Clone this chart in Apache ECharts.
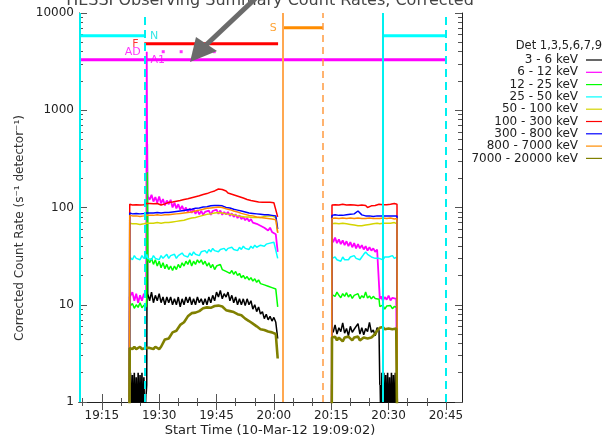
<!DOCTYPE html>
<html><head><meta charset="utf-8">
<script src="https://cdn.jsdelivr.net/npm/echarts@6/dist/echarts.min.js"></script>
<style>html,body{margin:0;padding:0;background:#fff}#c{width:604px;height:437px}</style>
</head><body><div id="c"></div>
<script>
// ---------- data (x = minutes after 19:00, y = counts/s/detector) ----------
const bands = ['3 - 6 keV','6 - 12 keV','12 - 25 keV','25 - 50 keV','50 - 100 keV','100 - 300 keV','300 - 800 keV','800 - 7000 keV','7000 - 20000 keV'];
const bandColors = ['#000000','#ff00ff','#00ff00','#00ffff','#d4d400','#ff0000','#0000ff','#ff8c00','#808000'];

const times1 = [22.2,22.3,23,23.5,24,24.5,25,25.5,26,26.6,26.75,26.9,27.0,
  27.5,28,28.5,29,29.5,30,30.5,31,31.5,32, 32.5,33,33.5,34,34.5,35,35.5,36,36.5,37,
  37.5,38,38.5,39,39.5,40,40.5,41,41.5,42, 42.5,43,43.5,44,44.5,45,45.5,46,46.5,47,
  47.5,48,48.5,49,49.5,50,50.5,51,51.5,52, 52.5,53,53.5,54,54.5,55,55.5,56,56.5,57,
  57.5,58,58.5,59,59.5,60,60.5, 61.0];
const times2 = [75.1,75.2, 75.5,76,76.5,77,77.5,78,78.5,79,79.5,80, 80.5,81,81.5,82,82.5,83,83.5,84,84.5,85,
  85.5,86,86.5,87,87.5, 87.7, 88,88.5,89,89.5,90,90.5,91,91.5,92, 92.2,92.3];

const r3to6_a = [null,null,null,null,null,null,null,null,null,1.2,1.5,450,13,
  11,13.5,10.5,12.5,11,13,10.5,12,10,12, 10.5,12,10,11.5,10,12,9.5,11.5,10,12,
  10.5,12,10,11.5,10,12,10.5,11.5,10,11.5, 10,12,10.5,12.5,11,13.5,12,14,11.5,13,
  12,13.5,11,12.5,10.5,12,10,11.5,10,11.5, 9.8,11.5,10,11,9,10,8.5,9.5,8,8.5,
  7.2,8,7,7.6,6.8,7.4,6.6, 4.5];
const r3to6_b = [0.3,5.6, 5.2,6.2,5,5.8,5.3,6.5,5.1,5.7,4.8,6, 5.2,5.6,5.5,6.4,5,5.8,4.9,5.7,5.3,6.6,
  5.2,5.5,4.8,5.8,5.4, 1.5, null,null,null,null,null,null,null,null,null, null,null];
const r3to6_floorTimes = [22.5,22.75,23,23.25,23.5,23.75,24,24.25,24.5,24.75,25,25.25,25.5,25.75,26,26.25,26.5,null,87.8,88,88.25,88.5,88.75,89,89.25,89.5,89.75,90,90.25,90.5,90.75,91,91.25,91.5,91.75,92,92.2];
const r3to6_floor = [2.0,0.5,1.9,0.5,2.0,0.5,1.8,0.5,2.0,0.5,1.9,0.5,2.0,0.5,1.8,0.5,1.2,null,1.5,0.5,2.0,0.5,2.0,0.5,1.9,0.5,2.0,0.5,1.8,0.5,2.0,0.5,1.9,0.5,2.0,0.5,1.8];

const r6to12_a = [0.3,12,13.5,11,13,10.5,12.5,11,13,12,4000,140,130,
  120,135,115,128,112,130,110,122,105,118, 108,120,100,112,98,108,95,104,92,100,
  90,98,88,96,86,94,85,92,84,90, 86,93,84,92,88,95,86,93,84,90,
  85,90,82,87,80,85,78,83,76,80, 74,78,72,76,70,73,68,70,65,68,
  62,65,58,62,56,58,53, 35];
const r6to12_b = [0.3,48, 44,49,43,47,42,46,41,45,40,44, 39,43,38,42,38,41,37,40,36,39,
  36,38,35,37,36, 11.5, 12.2,11,12,11.3,12.4,11.1,11.8,12,11.5, 11.8,0.3];

const r12to25_a = [0.3,9.6,10.3,9.2,10,9.4,10.5,9.3,9.9,9.5,12,230,30,
  27,30,26,29,25,28,24,27,23.5,26, 23,25,22.5,25,23,26,24,27,25,28,
  26,29,25,28,26,29,27,29,26,28, 25,27,24,26,23,25,24,26,23,24,
  22,23,21,22.5,20.5,22,20,21,19,20, 18.5,19.5,18,19,17.5,18.5,17,18,16.5,17,
  16,16.5,15.5,16,15,15.5,14.5, 9.5];
const r12to25_b = [0.3,12.7, 13.2,12.2,13.5,12.5,11.8,13,12.2,13.3,12,12.8, 11.6,12.5,12,13,11.5,12.4,11.8,13.5,11.7,12.3,
  11.5,12.2,11.6,12,11.4, 9.6, 9.2,9.9,9,9.7,9.3,9.8,9.1,9.6,9.4, 9.4,0.3];

const r25to50_a = [0.3,31,29,32,30,31,29,32,30,31,33,32,30,
  31,29,32,30,31,29,32,30,31,33, 30,32,31,33,30,32,31,34,32,33,
  31,34,32,35,33,34,32,35,34,36, 34,37,35,38,36,37,35,37,36,38,
  36,38,37,39,37,38,36,39,37,40, 38,39,37,40,38,41,39,40,41,42,
  40,42,41,43,42,44,43, 30];
const r25to50_b = [0.3,30, 29,31,29,30,28,31,29,30,29,31, 30,32,30,31,29,31,33,35,33,34,
  31,32,30,31,30, 30, 31,29,31,30,31,30,32,30,31, 31,0.3];

const r50to100_a = [0.3,69,68,70,68,69,67,70,68,69,71,70,68,
  69,67,69,68,70,68,69,67,70,69, 70,69,71,70,72,71,73,72,74,75,
  76,75,78,77,79,80,81,82,83,84, 85,84,86,85,88,87,89,87,88,86,
  86,84,85,83,84,82,82,81,81,80, 80,79,80,78,79,78,79,80,79,80,
  81,80,82,81,82,80,79, 55];
const r50to100_b = [0.3,68, 67,69,67,68,66,69,67,68,66,67, 65,66,64,65,63,65,64,66,65,67,
  66,68,67,69,68, 68, 67,69,68,69,67,69,68,70,69, 68,0.3];

const r100to300_a = [0.3,108,106,109,107,110,106,109,107,110,112,111,108,
  110,106,109,107,110,108,106,111,109,110, 113,111,114,112,116,115,118,116,121,119,
  123,121,126,124,129,127,132,130,136,133, 139,137,144,141,148,146,155,150,153,146,
  148,141,143,137,138,133,134,129,130,125, 126,121,123,118,119,116,117,114,116,113,
  115,113,116,113,115,112,114, 80];
const r100to300_b = [0.3,106, 105,107,104,106,105,108,104,106,105,107, 104,106,103,105,104,106,103,105,100,99,
  104,106,105,107,108, 107, 108,107,109,107,110,108,109,110,108, 108,0.3];

const r300to800_a = [0.3,88,86,89,87,88,86,89,87,88,90,89,87,
  88,86,88,87,89,87,88,86,89,88, 89,88,90,89,91,90,92,91,93,94,
  95,94,96,97,98,97,99,100,101,100, 102,103,104,103,105,104,105,103,104,101,
  100,98,99,96,96,94,94,92,92,90, 90,88,88,87,87,86,86,85,85,84,
  84,83,84,82,83,82,82, 60];
const r300to800_b = [0.3,83, 82,84,82,83,81,83,82,84,83,85, 84,86,89,92,88,84,83,82,84,82,
  83,81,83,82,83, 82, 83,82,84,82,83,82,83,82,83, 82,0.3];

const r800to7000_a = [0.3,83,82,84,82,83,81,83,82,83,85,84,82,
  83,81,83,82,84,82,83,81,84,83, 84,83,85,84,86,85,87,86,88,88,
  89,88,90,91,92,92,94,95,96,96, 98,98,99,99,100,99,101,99,100,97,
  97,95,95,93,92,90,90,88,87,86, 85,84,83,82,82,81,80,80,79,79,
  78,78,77,77,76,76,75, 55];
const r800to7000_b = [0.3,77, 76,78,76,77,75,78,76,77,76,78, 75,77,76,78,76,77,75,77,76,78,
  76,77,75,77,76, 77, 76,78,76,77,76,78,77,76,77, 77,0.3];

const r7000to20000_a = [0.3,3.6,3.5,3.7,3.5,3.6,3.7,3.5,3.6,3.6,3.7,3.6,3.5,
  3.6,3.7,3.5,3.7,3.6,3.5,3.7,3.6,4.4,4.3, 4.5,4.4,5.2,5.0,5.4,5.3,6.2,6.4,6.6,6.5,
  7.6,7.9,8.2,8.0,8.3,8.2,8.6,8.7,9.2,9.0, 9.4,9.2,9.3,9.5,9.7,9.6,9.8,9.5,9.6,9.3,
  8.8,8.9,8.6,8.5,8.4,8.2,8.0,7.9,7.8,7.5, 7.2,7.0,6.8,6.6,6.4,6.2,6.0,5.8,5.6,5.5,
  5.5,5.4,5.3,5.2,5.2,5.1,5.0, 2.8];
const r7000to20000_b = [0.3,4.6, 4.4,4.7,4.3,4.6,4.5,4.2,4.6,4.4,4.7,4.5, 4.3,4.6,4.4,4.7,4.3,4.5,4.6,4.4,4.5,4.3,
  4.6,4.4,5.0,5.4,5.6, 5.8, 5.7,5.9,5.6,5.8,5.7,5.9,5.6,5.8,5.7, 5.7,0.3];

// observing-summary flags
const flagNight = [[9.033,5845],[26.1,5845],null,[88.52,5845],[105,5845]];
const flagFlare = [[26.1,4833],[61.1,4833]];
const flagSAA = [[62.39,7060],[72.84,7060]];
const flagA1 = [[9.033,3311],[105,3311]];
const flagADdots = [[31.06,4000],[35.75,4000],[40.1,4000],[44.4,4000]];
const flagLabels = [['N',28.7,5845,'#00e0e0'],['F',23.8,4833,'#ff0000'],['AD',23.1,4000,'#ff00ff'],['A1',29.6,3311,'#ff00ff'],['S',59.85,7060,'#ff8c00']];
const cyanSolidLines = [9.15, 88.52];
const cyanDashedLines = [26.1, 105.0];
const orangeSolidLines = [62.39];
const orangeDashedLines = [72.84];

// axes
const xMajorTicks = [15,30,45,60,75,90,105];
const xMinorTicks = [10,20,25,35,40,50,55,65,70,80,85,95,100];
const yMajorTicks = [1,10,100,1000,10000];
const yMinorTicks = [2,3,4,5,6,7,8,9,20,30,40,50,60,70,80,90,200,300,400,500,600,700,800,900,2000,3000,4000,5000,6000,7000,8000,9000];

// ---------- build ----------
function pairs(ts, vs){ return ts.map((t,i)=> (t===null ? ['-','-'] : [t, vs[i]===null ? '-' : vs[i]])); }
function seg(a, b){ return pairs(times1,a).concat([[68,'-']]).concat(pairs(times2,b)); }
const bandData = [
  seg(r3to6_a, r3to6_b), seg(r6to12_a, r6to12_b), seg(r12to25_a, r12to25_b), seg(r25to50_a, r25to50_b),
  seg(r50to100_a, r50to100_b), seg(r100to300_a, r100to300_b), seg(r300to800_a, r300to800_b),
  seg(r800to7000_a, r800to7000_b), seg(r7000to20000_a, r7000to20000_b)
];
const lw = [1.5,1.8,1.5,1.5,1.5,1.5,1.5,1.5,2.6];
const series = [];
bandData.forEach((d,i)=>{
  series.push({type:'line', name:bands[i], data:d, showSymbol:false, connectNulls:false, clip:true,
    lineStyle:{color:bandColors[i], width:lw[i]}, itemStyle:{color:bandColors[i]}, silent:true, z:2});
  if(i===0){
    series.push({type:'line', data:pairs(r3to6_floorTimes, r3to6_floor), showSymbol:false, connectNulls:false, clip:true,
      lineStyle:{color:'#000', width:1.6}, silent:true, z:2});
  }
});
function vline(vals, color, type, width){
  return {type:'line', data:[], silent:true, z:3,
    markLine:{silent:true, symbol:['none','none'], animation:false, label:{show:false},
      lineStyle:{color:color, type:type, width:width}, data: vals.map(v=>({xAxis:v}))}};
}
series.push(vline(cyanSolidLines,'#00f0f0','solid',2));
series.push(vline(cyanDashedLines,'#00f0f0',[8,5],2));
series.push(vline(orangeSolidLines,'#ffa850','solid',2));
series.push(vline(orangeDashedLines,'#ff9a40',[7,5],1.5));
function hline(d, color){
  return {type:'line', data:d.map(p=>p===null?['-','-']:p), showSymbol:false, connectNulls:false, silent:true, z:4,
    lineStyle:{color:color, width:3}};
}
series.push(hline(flagNight,'#00ffff'));
series.push(hline(flagFlare,'#ff0000'));
series.push(hline(flagSAA,'#ff8c00'));
series.push(hline(flagA1,'#ff00ff'));
series.push({type:'scatter', data:flagADdots, symbol:'rect', symbolSize:[3,3], itemStyle:{color:'#ff00ff'}, silent:true, z:4});
series.push({type:'scatter', symbolSize:0, silent:true, z:5,
  data: flagLabels.map(f=>({value:[f[1],f[2]], label:{show:true, position:'inside', formatter:f[0], color:f[3],
    fontFamily:'DejaVu Sans', fontSize:11}}))});

function fmtTime(v){ const tot = 19*60 + Math.round(v); const h = Math.floor(tot/60), m = tot%60; return h+':'+(m<10?'0':'')+m; }
const xBase = {type:'value', min:9.033, max:109.2, splitLine:{show:false}};
const tickCol = '#555', lineCol = '#222';
const xAxes = [
  Object.assign({}, xBase, {position:'bottom', axisLine:{show:true, lineStyle:{color:lineCol}},
    axisTick:{show:true, inside:true, length:8, customValues:xMajorTicks, lineStyle:{color:tickCol}},
    axisLabel:{show:true, customValues:xMajorTicks, formatter:fmtTime, margin:8, color:'#222', fontFamily:'DejaVu Sans', fontSize:12}}),
  Object.assign({}, xBase, {position:'bottom', axisLine:{show:false},
    axisTick:{show:true, inside:true, length:4, customValues:xMinorTicks, lineStyle:{color:tickCol}}, axisLabel:{show:false}}),
  Object.assign({}, xBase, {position:'top', axisLine:{show:true, lineStyle:{color:lineCol}},
    axisTick:{show:true, inside:true, length:8, customValues:xMajorTicks, lineStyle:{color:tickCol}}, axisLabel:{show:false}}),
  Object.assign({}, xBase, {position:'top', axisLine:{show:false},
    axisTick:{show:true, inside:true, length:4, customValues:xMinorTicks, lineStyle:{color:tickCol}}, axisLabel:{show:false}})
];
const logMajor = yMajorTicks.map(v=>Math.log10(v));
const logMinor = yMinorTicks.map(v=>Math.log10(v));
const yl = {type:'value', min:0, max:4, splitLine:{show:false}};
const yAxes = [
  {type:'log', logBase:10, min:1, max:10000, position:'left', axisLine:{show:true, lineStyle:{color:lineCol}},
    axisTick:{show:false}, axisLabel:{show:false}, splitLine:{show:false}},
  Object.assign({}, yl, {position:'left', axisLine:{show:false},
    axisTick:{show:true, inside:true, length:8, customValues:logMajor, lineStyle:{color:tickCol}},
    axisLabel:{show:true, customValues:logMajor, formatter:v=>String(Math.round(Math.pow(10,v))), margin:5, color:'#222', fontFamily:'DejaVu Sans', fontSize:12}}),
  Object.assign({}, yl, {position:'left', axisLine:{show:false},
    axisTick:{show:true, inside:true, length:4, customValues:logMinor, lineStyle:{color:tickCol}}, axisLabel:{show:false}}),
  Object.assign({}, yl, {position:'right', axisLine:{show:true, lineStyle:{color:lineCol}},
    axisTick:{show:true, inside:true, length:7, customValues:logMajor, lineStyle:{color:tickCol}}, axisLabel:{show:false}}),
  Object.assign({}, yl, {position:'right', axisLine:{show:false},
    axisTick:{show:true, inside:true, length:4, customValues:logMinor, lineStyle:{color:tickCol}}, axisLabel:{show:false}})
];

// legend & annotations (graphic)
const graphics = [
  {type:'text', z:10, style:{text:'HESSI Observing Summary Count Rates, Corrected', x:270, y:9, align:'center', verticalAlign:'bottom',
    fontFamily:'DejaVu Sans', fontSize:16, fill:'#444'}},
  {type:'text', z:10, rotation:Math.PI/2, x:20, y:228, style:{text:'Corrected Count Rate (s\u207B\u00B9 detector\u207B\u00B9)', x:0, y:0,
    align:'center', verticalAlign:'middle', fontFamily:'DejaVu Sans', fontSize:12, fill:'#333'}},
  {type:'text', z:10, style:{text:'Start Time (10-Mar-12 19:09:02)', x:270, y:431, align:'center', verticalAlign:'middle',
    fontFamily:'DejaVu Sans', fontSize:13, fill:'#222'}},
  {type:'text', z:10, style:{text:'Det 1,3,5,6,7,9', x:602, y:46, align:'right', verticalAlign:'middle',
    fontFamily:'DejaVu Sans', fontSize:11.5, fill:'#222'}},
  {type:'line', z:20, shape:{x1:258, y1:-4, x2:205, y2:46}, style:{stroke:'#6b6b6b', lineWidth:5}},
  {type:'polygon', z:20, shape:{points:[[190,62],[196,37],[217,51]]}, style:{fill:'#6b6b6b'}}
];
bands.forEach((b,i)=>{
  const y = 60 + 12.3*i;
  graphics.push({type:'text', z:10, style:{text:b, x:578, y:y, align:'right', verticalAlign:'middle',
    fontFamily:'DejaVu Sans', fontSize:12, fill:'#222'}});
  graphics.push({type:'line', z:10, shape:{x1:586, y1:y, x2:602, y2:y}, style:{stroke:bandColors[i], lineWidth:1.2}});
});

const chart = echarts.init(document.getElementById('c'), null, {renderer:'canvas'});
chart.setOption({
  animation:false,
  backgroundColor:'#fff',
  grid:{left:79, right:142, top:13, bottom:35, containLabel:false},
  xAxis:xAxes,
  yAxis:yAxes,
  series:series,
  graphic:graphics
});
</script>
</body></html>
